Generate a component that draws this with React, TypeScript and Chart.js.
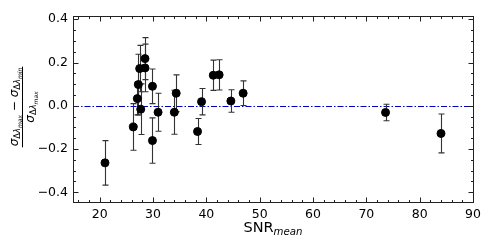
import React, { useEffect, useRef } from "react";
import { Chart, registerables } from "chart.js";

Chart.register(...registerables);

const SNR_MEAN = [21.0, 26.3, 27.06, 27.25, 27.5, 27.7, 28.5, 28.5, 29.9, 29.9, 30.95, 34.0, 34.35, 38.35, 39.1, 41.3, 42.4, 44.6, 46.9, 73.6, 84.0];
const REL_DIFF = [-0.264, -0.098, 0.033, 0.098, 0.172, -0.016, 0.175, 0.218, 0.09, -0.161, -0.03, -0.03, 0.058, -0.119, 0.019, 0.141, 0.143, 0.022, 0.058, -0.031, -0.128];
const REL_ERR = [0.103, 0.108, 0.075, 0.14, 0.107, 0.117, 0.11, 0.097, 0.08, 0.105, 0.088, 0.102, 0.085, 0.06, 0.061, 0.07, 0.07, 0.052, 0.057, 0.038, 0.09];

const X_TICKS = [20, 30, 40, 50, 60, 70, 80, 90];
const Y_TICKS = [-0.4, -0.2, 0.0, 0.2, 0.4];
const X_MIN = 15, X_MAX = 90;
const Y_MIN = -0.445, Y_MAX = 0.415;
const X_MINOR_STEP = 2;
const Y_MINOR_STEP = 0.05;

type Run = { t: string; size: number; italic?: boolean; dy?: number };

function runsWidth(ctx: CanvasRenderingContext2D, runs: Run[]) {
  let w = 0;
  for (const r of runs) {
    ctx.font = `${r.italic ? "italic " : ""}${r.size}px "DejaVu Sans"`;
    w += ctx.measureText(r.t).width;
  }
  return w;
}
function drawRuns(ctx: CanvasRenderingContext2D, runs: Run[], x: number, y: number) {
  let cx = x;
  for (const r of runs) {
    ctx.font = `${r.italic ? "italic " : ""}${r.size}px "DejaVu Sans"`;
    ctx.fillText(r.t, cx, y + (r.dy || 0));
    cx += ctx.measureText(r.t).width;
  }
}

const sigmaSub = (which: string): Run[] => [
  { t: "σ", size: 12, italic: true },
  { t: "Δ", size: 8.4, dy: 2.5 },
  { t: "λ", size: 8.4, italic: true, dy: 2.5 },
  { t: which, size: 6, italic: true, dy: 4 },
];

const overlay = {
  id: "overlay",
  beforeDatasetsDraw(chart: any) {
    const { ctx, chartArea: a, scales } = chart;
    const xs = scales.x, ys = scales.y;
    ctx.save();
    // zero line
    const y0 = Math.round(ys.getPixelForValue(0)) + 0.5;
    ctx.strokeStyle = "#0000c0";
    ctx.lineWidth = 1;
    ctx.setLineDash([6, 2, 1.5, 2]);
    ctx.beginPath();
    ctx.moveTo(a.left, y0);
    ctx.lineTo(a.right, y0);
    ctx.stroke();
    ctx.setLineDash([]);
    // error bars
    ctx.strokeStyle = "#333";
    ctx.lineWidth = 1.1;
    for (let i = 0; i < SNR_MEAN.length; i++) {
      const px = Math.round(xs.getPixelForValue(SNR_MEAN[i])) + 0.5;
      const top = ys.getPixelForValue(REL_DIFF[i] + REL_ERR[i]);
      const bot = ys.getPixelForValue(REL_DIFF[i] - REL_ERR[i]);
      ctx.beginPath();
      ctx.moveTo(px, top);
      ctx.lineTo(px, bot);
      ctx.moveTo(px - 3, top);
      ctx.lineTo(px + 3, top);
      ctx.moveTo(px - 3, bot);
      ctx.lineTo(px + 3, bot);
      ctx.stroke();
    }
    ctx.restore();
  },
  afterDraw(chart: any) {
    const { ctx, chartArea: a, scales } = chart;
    const xs = scales.x, ys = scales.y;
    ctx.save();
    ctx.strokeStyle = "#222";
    ctx.lineWidth = 1;
    const L = Math.round(a.left) + 0.5, R = Math.round(a.right) + 0.5;
    const T = Math.round(a.top) + 0.5, B = Math.round(a.bottom) + 0.5;
    ctx.strokeRect(L, T, R - L, B - T);
    ctx.beginPath();
    // x ticks
    for (let v = 16; v <= X_MAX + 1e-9; v += X_MINOR_STEP) {
      const major = X_TICKS.some((t) => Math.abs(t - v) < 1e-6);
      const len = major ? 5 : 2.5;
      const px = Math.round(xs.getPixelForValue(v)) + 0.5;
      ctx.moveTo(px, B); ctx.lineTo(px, B - len);
      ctx.moveTo(px, T); ctx.lineTo(px, T + len);
    }
    for (let k = Math.ceil(Y_MIN / Y_MINOR_STEP); k * Y_MINOR_STEP <= Y_MAX + 1e-9; k++) {
      const v = k * Y_MINOR_STEP;
      const major = Y_TICKS.some((t) => Math.abs(t - v) < 1e-6);
      const len = major ? 5 : 2.5;
      const py = Math.round(ys.getPixelForValue(v)) + 0.5;
      ctx.moveTo(L, py); ctx.lineTo(L + len, py);
      ctx.moveTo(R, py); ctx.lineTo(R - len, py);
    }
    ctx.stroke();

    ctx.fillStyle = "#000";
    ctx.textBaseline = "alphabetic";
    ctx.textAlign = "left";
    // x title
    const xt: Run[] = [
      { t: "SNR", size: 14.5 },
      { t: "mean", size: 10.2, italic: true, dy: 3.5 },
    ];
    const xw = runsWidth(ctx, xt);
    drawRuns(ctx, xt, (a.left + a.right) / 2 - xw / 2, 231.5);

    // y title (fraction), rotated
    const num: Run[] = [...sigmaSub("max"), { t: " − ", size: 12 }, ...sigmaSub("min")];
    const den: Run[] = sigmaSub("max");
    ctx.translate(22.5, (a.top + a.bottom) / 2 - 2);
    ctx.rotate(-Math.PI / 2);
    const nw = runsWidth(ctx, num);
    const dw = runsWidth(ctx, den);
    drawRuns(ctx, num, -nw / 2, -5);
    drawRuns(ctx, den, -dw / 2, 11);
    ctx.lineWidth = 1;
    ctx.strokeStyle = "#000";
    ctx.beginPath();
    ctx.moveTo(-nw / 2 - 1, 0);
    ctx.lineTo(nw / 2 + 1, 0);
    ctx.stroke();
    ctx.restore();
  },
};

export default function App() {
  const ref = useRef<HTMLCanvasElement | null>(null);
  useEffect(() => {
    document.body.style.margin = "0";
    const canvas = ref.current!;
    const chart = new Chart(canvas, {
      type: "scatter",
      data: {
        datasets: [
          {
            data: SNR_MEAN.map((x, i) => ({ x, y: REL_DIFF[i] })),
            backgroundColor: "#000",
            borderColor: "#000",
            pointRadius: 4,
            pointHoverRadius: 4,
          },
        ],
      },
      options: {
        responsive: false,
        animation: false,
        events: [],
        layout: { padding: { top: 16, right: 18, left: 0, bottom: 0 } },
        plugins: { legend: { display: false }, tooltip: { enabled: false } },
        scales: {
          x: {
            type: "linear",
            min: X_MIN,
            max: X_MAX,
            afterBuildTicks: (s: any) => { s.ticks = X_TICKS.map((v) => ({ value: v })); },
            afterFit: (s: any) => { s.height = 43; },
            grid: { display: false, drawTicks: false },
            border: { display: false },
            ticks: {
              color: "#000",
              padding: 5,
              maxRotation: 0,
              autoSkip: false,
              font: { family: "DejaVu Sans", size: 12.5 },
              callback: (v: any) => String(v),
            },
          },
          y: {
            type: "linear",
            min: Y_MIN,
            max: Y_MAX,
            afterBuildTicks: (s: any) => { s.ticks = Y_TICKS.map((v) => ({ value: v })); },
            afterFit: (s: any) => { s.width = 73; },
            grid: { display: false, drawTicks: false },
            border: { display: false },
            ticks: {
              color: "#000",
              padding: 5,
              autoSkip: false,
              font: { family: "DejaVu Sans", size: 12.5 },
              callback: (v: any) => (v < -1e-9 ? "−" : "") + Math.abs(v).toFixed(1),
            },
          },
        },
      },
      plugins: [overlay],
    });
    return () => chart.destroy();
  }, []);
  return <canvas ref={ref} width={491} height={245} style={{ display: "block" }} />;
}
